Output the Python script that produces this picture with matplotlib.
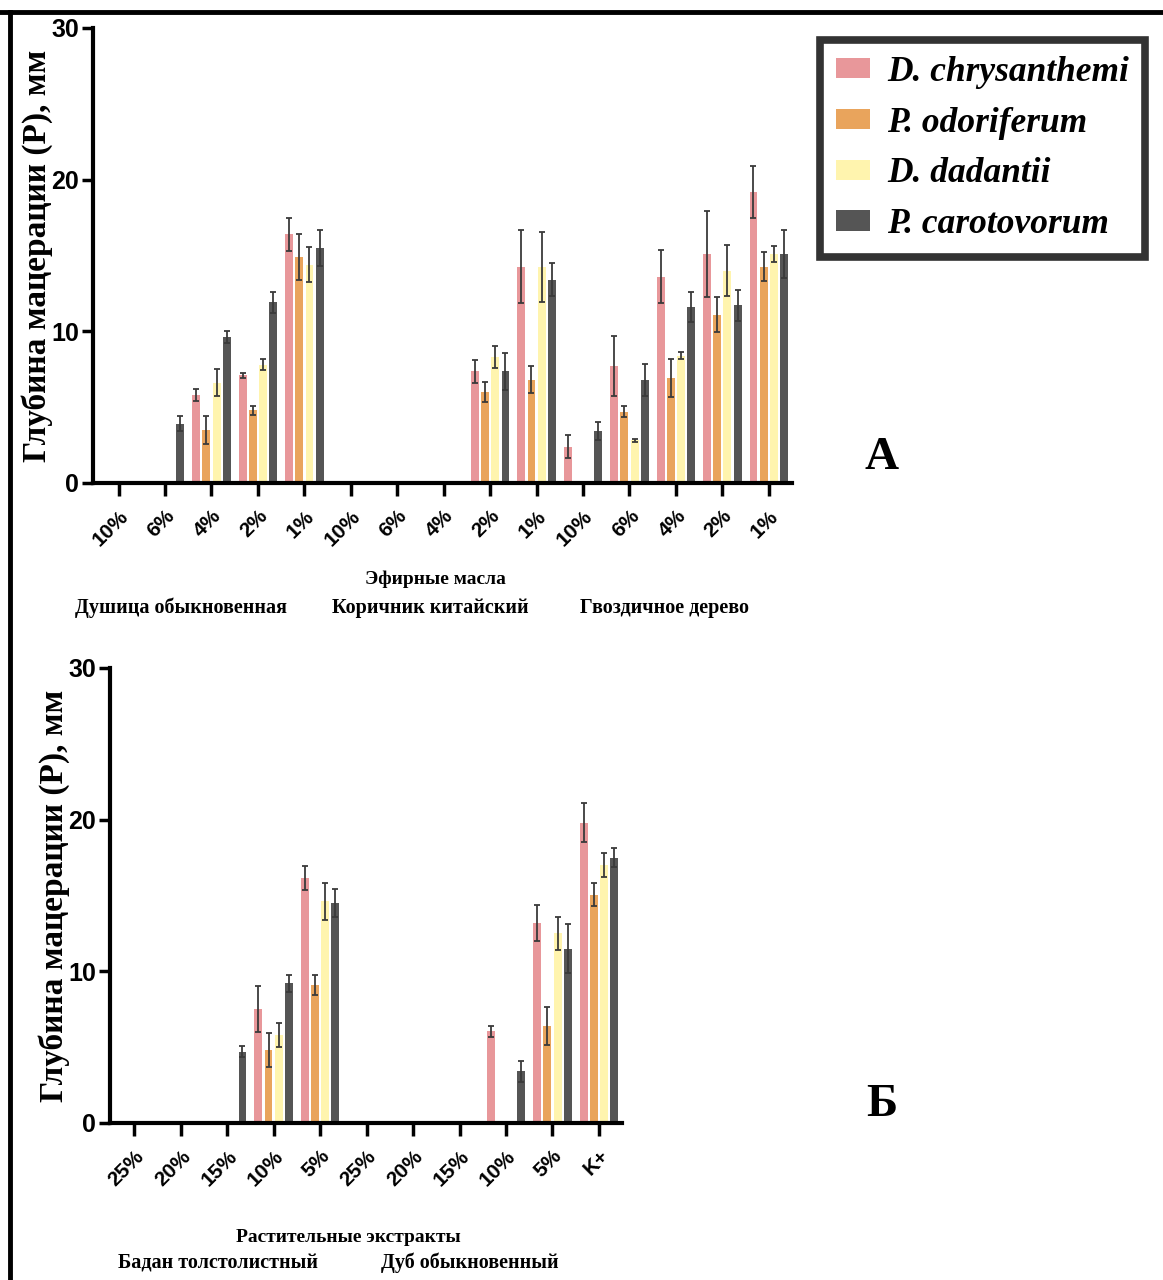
import numpy as np
import matplotlib.pyplot as plt
from matplotlib.lines import Line2D
from matplotlib.patches import Patch

# strains / colours
strains = ['D. chrysanthemi', 'P. odoriferum', 'D. dadantii', 'P. carotovorum']
colors = ['#E8979A', '#E9A45C', '#FFF4AE', '#555555']

# panel A: essential oils, 3 oils x 5 concentrations
labels_a = ['10%', '6%', '4%', '2%', '1%'] * 3
a_dchr = [0, 0, 5.8, 7.1, 16.4, 0, 0, 0, 7.35, 14.25, 2.4, 7.7, 13.6, 15.1, 19.2]
a_podo = [0, 0, 3.5, 4.8, 14.9, 0, 0, 0, 6.0, 6.8, 0, 4.7, 6.9, 11.1, 14.25]
a_ddad = [0, 0, 6.6, 7.8, 14.4, 0, 0, 0, 8.3, 14.25, 0, 2.8, 8.4, 14.0, 15.1]
a_pcar = [0, 3.9, 9.6, 11.9, 15.5, 0, 0, 0, 7.35, 13.4, 3.4, 6.8, 11.6, 11.7, 15.1]
a_dchr_sd = [0, 0, 0.4, 0.15, 1.1, 0, 0, 0, 0.75, 2.4, 0.75, 2.0, 1.75, 2.85, 1.7]
a_podo_sd = [0, 0, 0.9, 0.3, 1.5, 0, 0, 0, 0.65, 0.9, 0, 0.35, 1.25, 1.15, 0.95]
a_ddad_sd = [0, 0, 0.9, 0.35, 1.15, 0, 0, 0, 0.75, 2.3, 0, 0.1, 0.2, 1.7, 0.55]
a_pcar_sd = [0, 0.5, 0.4, 0.7, 1.2, 0, 0, 0, 1.2, 1.1, 0.6, 1.05, 1.0, 1.0, 1.6]

# panel B: plant extracts, 2 extracts x 5 concentrations + K+
labels_b = ['25%', '20%', '15%', '10%', '5%'] * 2 + ['K+']
b_dchr = [0, 0, 0, 7.5, 16.15, 0, 0, 0, 6.05, 13.2, 19.8]
b_podo = [0, 0, 0, 4.8, 9.1, 0, 0, 0, 0, 6.4, 15.05]
b_ddad = [0, 0, 0, 5.8, 14.6, 0, 0, 0, 0, 12.5, 17.0]
b_pcar = [0, 0, 4.7, 9.2, 14.5, 0, 0, 0, 3.4, 11.5, 17.5]
b_dchr_sd = [0, 0, 0, 1.5, 0.8, 0, 0, 0, 0.37, 1.2, 1.3]
b_podo_sd = [0, 0, 0, 1.1, 0.65, 0, 0, 0, 0, 1.25, 0.75]
b_ddad_sd = [0, 0, 0, 0.8, 1.25, 0, 0, 0, 0, 1.1, 0.77]
b_pcar_sd = [0, 0, 0.37, 0.55, 0.9, 0, 0, 0, 0.7, 1.6, 0.65]

serif = 'Liberation Serif'
sans = 'Liberation Sans'

fig = plt.figure(figsize=(11.63, 12.8), dpi=100)


def draw_panel(ax, labels, vals, sds, xmin, xmax):
    x = np.arange(len(labels))
    step = 0.22
    for i in range(4):
        v = np.array(vals[i], dtype=float)
        e = np.array(sds[i], dtype=float)
        pos = x + (i - 1.5) * step
        ax.bar(pos, v, width=0.17, color=colors[i], zorder=2)
        m = v > 0
        ax.errorbar(pos[m], v[m], yerr=e[m], fmt='none', ecolor='#3a3a3a',
                    elinewidth=1.3, capsize=2, capthick=1.3, zorder=3)
    ax.set_xlim(xmin, xmax)
    ax.set_ylim(0, 30)
    ax.set_yticks([0, 10, 20, 30])
    ax.set_xticks(x)
    ax.set_xticklabels(labels, rotation=45, ha='right', rotation_mode='anchor',
                       family=sans, fontweight='bold', fontsize=15)
    for t in ax.get_yticklabels():
        t.set_family(sans)
        t.set_fontweight('bold')
        t.set_fontsize(18)
    ax.spines['top'].set_visible(False)
    ax.spines['right'].set_visible(False)
    ax.spines['left'].set_linewidth(3)
    ax.spines['bottom'].set_linewidth(3)
    ax.tick_params(axis='x', length=9, width=2.5, pad=8)
    ax.tick_params(axis='y', length=8, width=2.5, pad=2)
    ax.set_ylabel('Глубина мацерации (P), мм', family=serif, fontweight='bold',
                  fontsize=24, labelpad=-1)


# panel A
ax1 = fig.add_axes([0.080, 0.6227, 0.601, 0.3555])
draw_panel(ax1, labels_a, [a_dchr, a_podo, a_ddad, a_pcar],
           [a_dchr_sd, a_podo_sd, a_ddad_sd, a_pcar_sd], -0.55, 14.5)

# panel B
ax2 = fig.add_axes([0.0946, 0.1227, 0.4404, 0.3555])
draw_panel(ax2, labels_b, [b_dchr, b_podo, b_ddad, b_pcar],
           [b_dchr_sd, b_podo_sd, b_ddad_sd, b_pcar_sd], -0.52, 10.5)

# group captions (pixel -> figure fraction)
W, H = 1163, 1280


def ftext(px, py, s, size, **kw):
    fig.text(px / W, 1 - py / H, s, ha='center', va='center', family=serif,
             fontweight='bold', fontsize=size, **kw)


ftext(435, 579, 'Эфирные масла', 14)
ftext(181, 608, 'Душица обыкновенная', 14.5)
ftext(430, 608, 'Коричник китайский', 14.5)
ftext(665, 608, 'Гвоздичное дерево', 14.5)
ftext(348, 1237, 'Растительные экстракты', 14)
ftext(218, 1263, 'Бадан толстолистный', 14.5)
ftext(470, 1263, 'Дуб обыкновенный', 14.5)

ftext(882, 458, 'А', 34)
ftext(882, 1105, 'Б', 34)

# legend
handles = [Patch(facecolor=c, edgecolor='none') for c in colors]
leg = fig.legend(handles, strains, loc='upper left',
                 bbox_to_anchor=(820 / W, 1 - 40 / H),
                 prop={'family': serif, 'weight': 'bold', 'style': 'italic', 'size': 25.5},
                 frameon=True, fancybox=False, handlelength=0.95, handleheight=0.5,
                 handletextpad=0.5, labelspacing=0.5, borderpad=0.45,
                 borderaxespad=0)
leg.get_frame().set_edgecolor('black')
leg.get_frame().set_linewidth(5.5)

# outer frame (top and left edges)
fig.add_artist(Line2D([0, 1], [1 - 12 / H, 1 - 12 / H], transform=fig.transFigure,
                      color='black', lw=3.5))
fig.add_artist(Line2D([10 / W, 10 / W], [0, 1 - 12 / H], transform=fig.transFigure,
                      color='black', lw=3.5))

fig.savefig('out.png', dpi=100)
